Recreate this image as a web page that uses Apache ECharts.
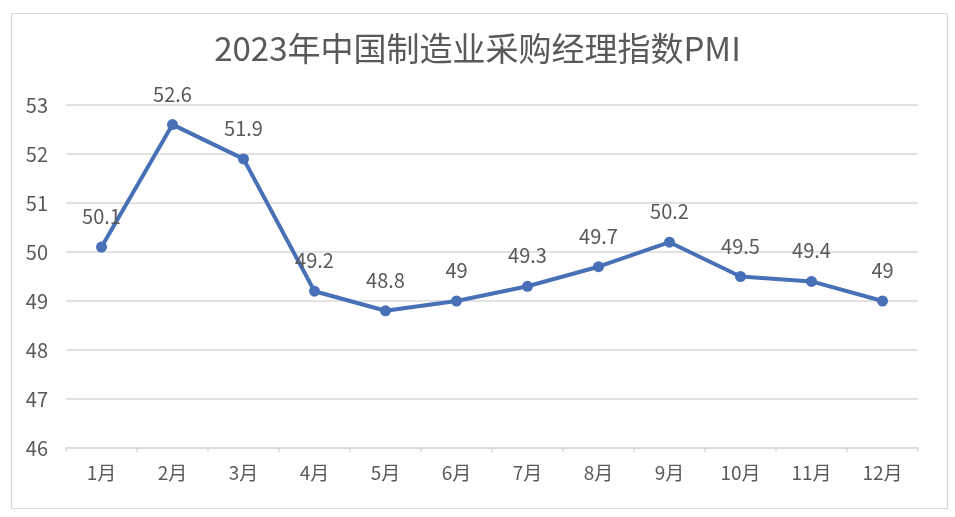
<!DOCTYPE html>
<html>
<head>
<meta charset="utf-8">
<script src="https://cdn.jsdelivr.net/npm/echarts@6/dist/echarts.min.js"></script>
<style>
html,body{margin:0;padding:0;background:#fff;}
#c{width:955px;height:517px;}
</style>
</head>
<body>
<div id="c"></div>
<script>
const categories = ['1月','2月','3月','4月','5月','6月','7月','8月','9月','10月','11月','12月'];
const pmiValues = [50.1, 52.6, 51.9, 49.2, 48.8, 49, 49.3, 49.7, 50.2, 49.5, 49.4, 49];
const titleText = '2023年中国制造业采购经理指数PMI';
const yMin = 46, yMax = 53, yStep = 1;

const font = '"Noto Sans CJK SC", "Noto Sans", sans-serif';
const chart = echarts.init(document.getElementById('c'));
chart.setOption({
  backgroundColor: '#ffffff',
  animation: false,
  graphic: [{
    type: 'rect', left: 9, top: 11,
    shape: { width: 936, height: 495 },
    style: { fill: 'none', stroke: '#d9d9d9', lineWidth: 1.2 }
  }],
  title: {
    text: titleText,
    left: 'center',
    top: 27,
    textStyle: { fontFamily: font, fontSize: 33, fontWeight: 'normal', color: '#595959' }
  },
  grid: { left: 66, right: 37, top: 105, bottom: 69 },
  xAxis: {
    type: 'category',
    data: categories,
    boundaryGap: true,
    axisLine: { lineStyle: { color: '#d9d9d9', width: 1.5 } },
    axisTick: { show: true, length: 4, lineStyle: { color: '#d9d9d9', width: 1.5 } },
    axisLabel: { fontFamily: font, fontSize: 19, color: '#595959', margin: 15 }
  },
  yAxis: {
    type: 'value',
    min: yMin, max: yMax, interval: yStep,
    axisLine: { show: false },
    axisTick: { show: false },
    splitLine: { lineStyle: { color: '#d9d9d9', width: 1.5 } },
    axisLabel: { fontFamily: font, fontSize: 20, color: '#595959', margin: 18 }
  },
  series: [{
    type: 'line',
    data: pmiValues,
    symbol: 'circle',
    symbolSize: 11,
    lineStyle: { color: '#4770b6', width: 4 },
    itemStyle: { color: '#4770b6' },
    label: {
      show: true, position: 'top', distance: 15,
      fontFamily: font, fontSize: 20, color: '#595959'
    }
  }]
});
</script>
</body>
</html>
